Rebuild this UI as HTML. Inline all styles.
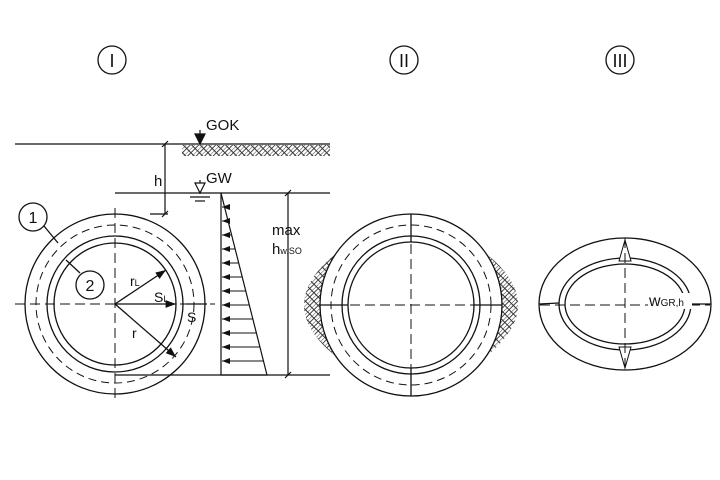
<!DOCTYPE html><html><head><style>body{margin:0;background:#fff}svg{display:block}text{font-family:"Liberation Sans",sans-serif;fill:#111}</style></head><body>
<svg width="720" height="480" viewBox="0 0 720 480" xmlns="http://www.w3.org/2000/svg">
<defs>
<pattern id="h" width="6" height="6" patternUnits="userSpaceOnUse" patternTransform="rotate(45)"><path d="M0 0V6M3 0V6M0 3H6" stroke="#333" stroke-width="0.9"/></pattern>
<marker id="a" markerWidth="8" markerHeight="6" refX="8" refY="3" orient="auto"><path d="M0 0L8 3L0 6z" fill="#111"/></marker>
</defs>
<g stroke="#111" fill="none" stroke-width="1.3">
<circle cx="112" cy="60" r="14"/><circle cx="404" cy="60" r="14"/><circle cx="620" cy="60" r="14"/>
</g>
<text x="112" y="67" font-size="18" text-anchor="middle">I</text>
<text x="404" y="67" font-size="18" text-anchor="middle">II</text>
<text x="620" y="67" font-size="18" text-anchor="middle">III</text>
<rect x="182" y="145" width="148" height="11" fill="url(#h)"/>
<g stroke="#111" stroke-width="1.2" fill="none">
<line x1="15" y1="144" x2="330" y2="144"/>
<line x1="115" y1="193" x2="330" y2="193"/>
<line x1="115" y1="375" x2="330" y2="375"/>
<line x1="165" y1="144" x2="165" y2="214"/><line x1="150" y1="214" x2="168" y2="214"/>
<line x1="162" y1="147" x2="168" y2="141"/><line x1="162" y1="217" x2="168" y2="211"/>
<line x1="288" y1="193" x2="288" y2="375"/>
<line x1="285" y1="196" x2="291" y2="190"/><line x1="285" y1="378" x2="291" y2="372"/>
<line x1="200" y1="130" x2="200" y2="144"/><path d="M195 134L200 144L205 134z" fill="#111"/>
<line x1="200" y1="180" x2="200" y2="193"/><path d="M195 183L200 193L205 183z" fill="#fff"/>
<line x1="190" y1="197" x2="210" y2="197"/><line x1="195" y1="201" x2="205" y2="201"/>
<polyline points="221,193 221,375 267,375 221,193"/>
</g>
<g stroke="#111" stroke-width="1" marker-end="url(#a)">
<line x1="225" y1="207" x2="222" y2="207"/><line x1="228" y1="221" x2="222" y2="221"/><line x1="232" y1="235" x2="222" y2="235"/><line x1="235" y1="249" x2="222" y2="249"/><line x1="239" y1="263" x2="222" y2="263"/><line x1="242" y1="277" x2="222" y2="277"/><line x1="246" y1="291" x2="222" y2="291"/><line x1="249" y1="305" x2="222" y2="305"/><line x1="253" y1="319" x2="222" y2="319"/><line x1="256" y1="333" x2="222" y2="333"/><line x1="260" y1="347" x2="222" y2="347"/><line x1="263" y1="361" x2="222" y2="361"/>
</g>
<text x="206" y="130" font-size="15">GOK</text>
<text x="206" y="183" font-size="15">GW</text>
<text x="154" y="186" font-size="15">h</text>
<text x="272" y="235" font-size="15">max</text>
<text x="272" y="254" font-size="15">h<tspan font-size="9">w,SO</tspan></text>
<g stroke="#111" fill="none" stroke-width="1.3">
<circle cx="115" cy="304" r="90"/><circle cx="115" cy="304" r="68"/><circle cx="115" cy="304" r="61"/>
<circle cx="115" cy="304" r="79" stroke-dasharray="8 5" stroke-width="1"/>
<g stroke-dasharray="10 5" stroke-width="1"><line x1="15" y1="304" x2="215" y2="304"/><line x1="115" y1="208" x2="115" y2="402"/></g>
<line x1="115" y1="304" x2="166" y2="270" marker-end="url(#a)"/>
<line x1="115" y1="304" x2="176" y2="304" marker-end="url(#a)"/>
<line x1="115" y1="304" x2="176" y2="357" marker-end="url(#a)"/>
<line x1="186" y1="304" x2="207" y2="304"/>
<circle cx="33" cy="217" r="14" fill="#fff"/><circle cx="90" cy="285" r="14" fill="#fff"/>
<line x1="44" y1="226" x2="58" y2="243"/><line x1="66" y1="260" x2="80" y2="273"/>
</g>
<text x="33" y="223" font-size="16" text-anchor="middle">1</text>
<text x="90" y="291" font-size="16" text-anchor="middle">2</text>
<text x="130" y="286" font-size="14">r<tspan font-size="9">L</tspan></text>
<text x="154" y="302" font-size="14">S<tspan font-size="9">L</tspan></text>
<text x="187" y="322" font-size="14">S</text>
<text x="132" y="338" font-size="14">r</text>
<path d="M338 252Q270 305 338 358L350 358L350 252z" fill="url(#h)"/>
<path d="M484 252Q552 305 484 358L472 358L472 252z" fill="url(#h)"/>
<g stroke="#111" fill="none" stroke-width="1.3">
<circle cx="411" cy="305" r="91" fill="#fff"/><circle cx="411" cy="305" r="69"/><circle cx="411" cy="305" r="63"/>
<circle cx="411" cy="305" r="80" stroke-dasharray="8 5" stroke-width="1"/>
<g stroke-dasharray="10 5" stroke-width="1"><line x1="320" y1="305" x2="502" y2="305"/><line x1="411" y1="214" x2="411" y2="396"/></g>
<line x1="411" y1="214" x2="411" y2="242"/><line x1="411" y1="368" x2="411" y2="396"/>
<line x1="320" y1="305" x2="348" y2="305"/><line x1="474" y1="305" x2="502" y2="305"/>
</g>
<g stroke="#111" fill="none" stroke-width="1.3">
<ellipse cx="625" cy="304" rx="86" ry="66"/><ellipse cx="625" cy="304" rx="66" ry="46"/><ellipse cx="625" cy="304" rx="60" ry="40"/>
<path d="M619 261L625 240L631 261z M619 347L625 368L631 347z" fill="#fff" stroke-width="1"/>
<path d="M539 304L559 303M691 304L711 304"/>
<g stroke-dasharray="10 5" stroke-width="1"><line x1="540" y1="305" x2="710" y2="305"/><line x1="625" y1="238" x2="625" y2="372"/></g>
</g>
<rect x="648" y="293" width="44" height="16" fill="#fff"/>
<text x="649" y="306" font-size="16">w<tspan font-size="10">GR,h</tspan></text>
</svg></body></html>
